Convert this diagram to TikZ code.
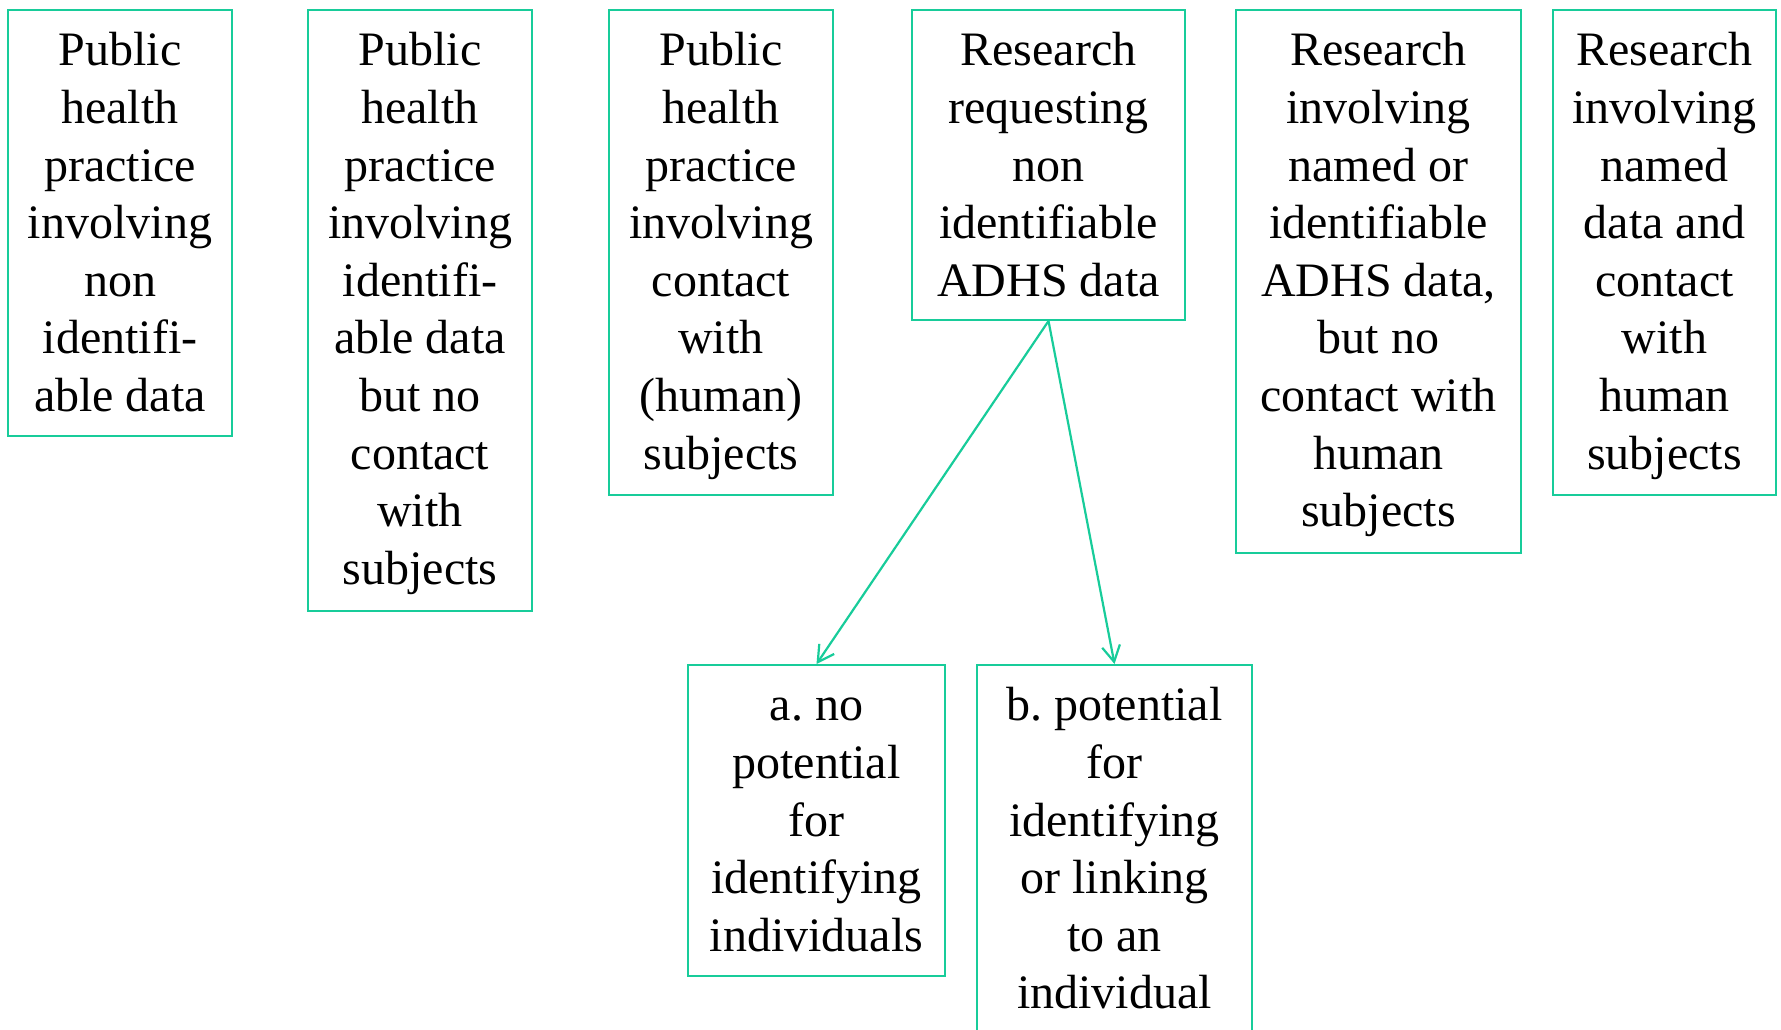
\documentclass[tikz,border=0pt]{standalone}
\usepackage{fontspec}
\setmainfont{Liberation Serif}
\usetikzlibrary{arrows.meta}
\definecolor{boxgreen}{RGB}{24,204,154}
\newcommand{\toprule}{\rule{0pt}{20.16pt}}
\frenchspacing
\begin{document}
\begin{tikzpicture}[x=1pt,y=-1pt,
  catbox/.style={draw=boxgreen, line width=1pt, inner sep=0pt, anchor=north},
  cattext/.style={align=center, inner sep=0pt, anchor=north, yshift=-8.1pt,
    font=\fontsize{24}{28.8}\selectfont, text=black},
  link/.style={draw=boxgreen, line width=1.1pt,
    -{Straight Barb[length=8pt,width=9pt,line width=1.1pt]}}]
\useasboundingbox (0,0) rectangle (890.5,514.5);

% top row of categories
\node[catbox, minimum width=112pt, minimum height=213pt] (ph1) at (60,4.5) {};
\node[cattext] (ph1t) at (ph1.north)
  {\toprule Public\\health\\practice\\involving\\non\\identifi-\\able data};
\node[catbox, minimum width=112pt, minimum height=300.5pt] (ph2) at (210,4.5) {};
\node[cattext] (ph2t) at (ph2.north)
  {\toprule Public\\health\\practice\\involving\\identifi-\\able data\\but no\\contact\\with\\subjects};
\node[catbox, minimum width=112pt, minimum height=242.5pt] (ph3) at (360.5,4.5) {};
\node[cattext] (ph3t) at (ph3.north)
  {\toprule Public\\health\\practice\\involving\\contact\\with\\(human)\\subjects};
\node[catbox, minimum width=136.5pt, minimum height=155pt] (r1) at (524.25,4.5) {};
\node[cattext] (r1t) at (r1.north)
  {\toprule Research\\requesting\\non\\identifiable\\ADHS data};
\node[catbox, minimum width=142.5pt, minimum height=271.5pt] (r2) at (689.25,4.5) {};
\node[cattext] (r2t) at (r2.north)
  {\toprule Research\\involving\\named or\\identifiable\\ADHS data,\\but no\\contact with\\human\\subjects};
\node[catbox, minimum width=111.5pt, minimum height=242.5pt] (r3) at (832.25,4.5) {};
\node[cattext] (r3t) at (r3.north)
  {\toprule Research\\involving\\named\\data and\\contact\\with\\human\\subjects};

% sub-categories of non identifiable research
\node[catbox, minimum width=128.5pt, minimum height=155.5pt] (ra) at (408.25,332) {};
\node[cattext] (rat) at (ra.north)
  {\toprule a. no\\potential\\for\\identifying\\individuals};
\node[catbox, minimum width=137.5pt, minimum height=186pt] (rb) at (557.25,332) {};
\node[cattext] (rbt) at (rb.north)
  {\toprule b. potential\\for\\identifying\\or linking\\to an\\individual};

\draw[link] (r1.south) -- (ra.north);
\draw[link] (r1.south) -- (rb.north);
\end{tikzpicture}
\end{document}
